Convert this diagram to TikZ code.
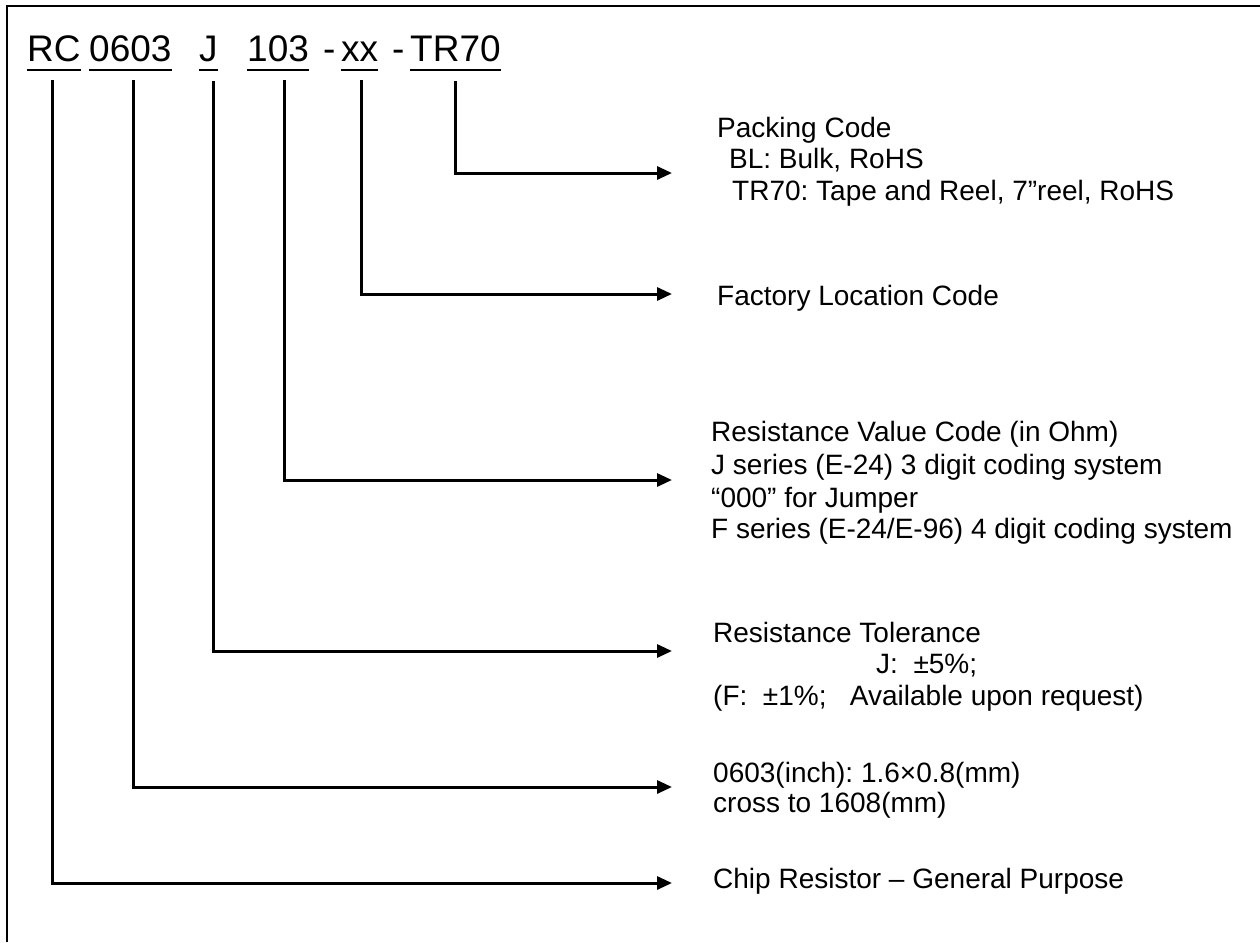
\documentclass[tikz,border=0pt]{standalone}
\usepackage{fontspec}
\setmainfont{Liberation Sans}
\usetikzlibrary{arrows.meta}
\frenchspacing
\begin{document}
\frenchspacing
\begin{tikzpicture}[x=1pt,y=-1pt,
  txt/.style={anchor=base west,inner sep=0pt,font=\fontsize{28}{32}\selectfont},
  ttl/.style={anchor=base west,inner sep=0pt,font=\fontsize{37}{40}\selectfont},
  ul/.style={line width=2.7pt},
  conn/.style={line width=3pt,-{Triangle[length=15pt,width=13pt]}},
  frame/.style={line width=2pt}]
\useasboundingbox (0,0) rectangle (1260,942);
\draw[frame] (7,942) -- (7,6) -- (1260,6);
% title
\node[ttl] (rc) at (27,62) {RC};
\node[ttl] (sz) at (89,62) {0603};
\node[ttl] (tol) at (199,62) {J};
\node[ttl] (val) at (247,62) {103};
\node[ttl] (d1) at (323,62) {-};
\node[ttl] (fac) at (341,62) {xx};
\node[ttl] (d2) at (392,62) {-};
\node[ttl] (pk) at (410,62) {TR70};
\foreach \n in {rc,sz,tol,val,fac,pk}
  \draw[ul] ([yshift=-8pt]\n.base west) -- ([yshift=-8pt]\n.base east);
% texts
\node[txt] (pk1) at (717,137) {Packing Code};
\node[txt] (pk2) at (729,168) {BL: Bulk, RoHS};
\node[txt] (pk3) at (732,200) {TR70: Tape and Reel, 7”reel, RoHS};
\node[txt] (fc) at (717,305) {Factory Location Code};
\node[txt] (rv1) at (711,441) {Resistance Value Code (in Ohm)};
\node[txt] (rv2) at (711,474) {J series (E-24) 3 digit coding system};
\node[txt] (rv3) at (711,507) {“000” for Jumper};
\node[txt] (rv4) at (711,538) {F series (E-24/E-96) 4 digit coding system};
\node[txt] (rt1) at (713,642) {Resistance Tolerance};
\node[txt] (rt2) at (876,673) {J:\ \ ±5\%;};
\node[txt] (rt3) at (713,705) {(F:\ \ ±1\%;\ \ \ Available upon request)};
\node[txt] (sz1) at (713,782) {0603(inch): 1.6×0.8(mm)};
\node[txt] (sz2) at (713,812) {cross to 1608(mm)};
\node[txt] (cr) at (713,888) {Chip Resistor – General Purpose};
% connector ends
\coordinate (rcT) at (52,80);   \coordinate (rcE) at (672,883);
\coordinate (szT) at (133,80);  \coordinate (szE) at (672,787);
\coordinate (tolT) at (213,81); \coordinate (tolE) at (672,651);
\coordinate (valT) at (284,80); \coordinate (valE) at (672,480);
\coordinate (facT) at (361,80); \coordinate (facE) at (672,294);
\coordinate (pkT) at (455,81);  \coordinate (pkE) at (672,173);
\foreach \n in {rc,sz,tol,val,fac,pk}
  \draw[conn] (\n T) |- (\n E);
\end{tikzpicture}
\end{document}
